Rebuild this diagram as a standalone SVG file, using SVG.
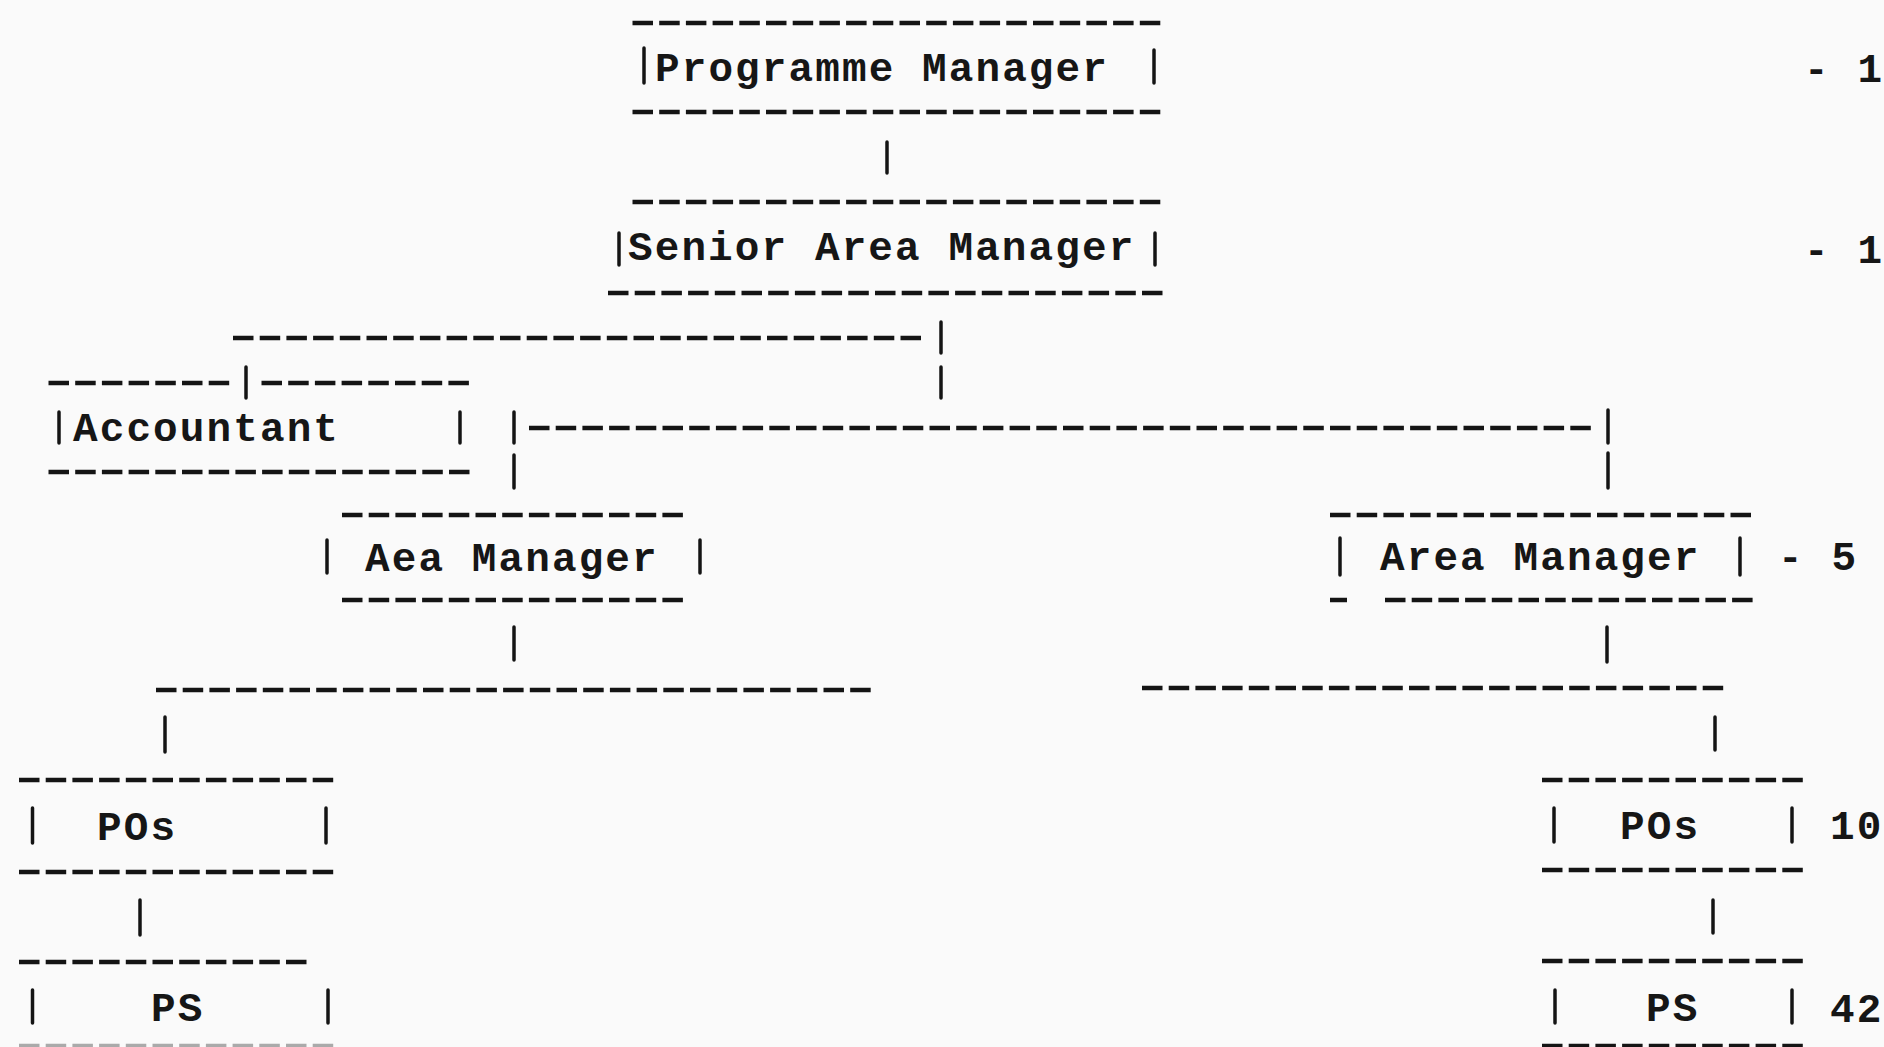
<svg xmlns="http://www.w3.org/2000/svg" width="1884" height="1047" viewBox="0 0 1884 1047">
<style>
.bg{fill:#fafafa}
.d{stroke:#141414;stroke-width:4.5;stroke-dasharray:20.5 6.2;fill:none}
.b{stroke:#141414;stroke-width:3.5;stroke-linecap:round}
.t{font-family:"Liberation Mono","DejaVu Sans Mono",monospace;font-size:41px;font-weight:bold;fill:#161616;letter-spacing:2.1px}
.faint{opacity:.35}
</style>
<rect class="bg" x="0" y="0" width="1884" height="1047"/>

<g id="programme-manager">
<line class="d" x1="632.5" y1="23" x2="1160.3" y2="23"/>
<line class="b" x1="644" y1="48" x2="644" y2="83"/>
<text class="t" x="655" y="81">Programme Manager</text>
<line class="b" x1="1154" y1="50" x2="1154" y2="83"/>
<line class="d" x1="632.5" y1="112" x2="1160.3" y2="112"/>
<text class="t" x="1804" y="82">- 1</text>
</g>

<g id="senior-area-manager">
<line class="d" x1="632.5" y1="202" x2="1160.3" y2="202"/>
<line class="b" x1="619" y1="233" x2="619" y2="265"/>
<text class="t" x="628" y="260">Senior Area Manager</text>
<line class="b" x1="1155" y1="233" x2="1155" y2="265"/>
<line class="d" x1="608" y1="293" x2="1162.5" y2="293"/>
<text class="t" x="1804" y="263">- 1</text>
</g>

<g id="accountant">
<line class="d" x1="48.5" y1="383" x2="229.2" y2="383"/>
<line class="d" x1="261.5" y1="383" x2="468.9" y2="383"/>
<line class="b" x1="59" y1="412" x2="59" y2="443"/>
<text class="t" x="73" y="441">Accountant</text>
<line class="b" x1="460" y1="412" x2="460" y2="443"/>
<line class="d" x1="48.5" y1="472" x2="469.5" y2="472"/>
</g>

<g id="aea-manager">
<line class="d" x1="342" y1="515" x2="682.9" y2="515"/>
<line class="b" x1="327" y1="540" x2="327" y2="573"/>
<text class="t" x="365" y="571">Aea Manager</text>
<line class="b" x1="700" y1="540" x2="700" y2="573"/>
<line class="d" x1="342" y1="600" x2="682.9" y2="600"/>
</g>

<g id="area-manager">
<line class="d" x1="1330" y1="515" x2="1751" y2="515"/>
<line class="b" x1="1340" y1="538" x2="1340" y2="575"/>
<text class="t" x="1380" y="570">Area Manager</text>
<line class="b" x1="1740" y1="538" x2="1740" y2="575"/>
<line class="d" x1="1330" y1="600" x2="1347" y2="600"/>
<line class="d" x1="1385" y1="600" x2="1752.6" y2="600"/>
<text class="t" x="1778" y="570">- 5</text>
</g>

<g id="pos-left">
<line class="d" x1="19" y1="780" x2="333.2" y2="780"/>
<line class="b" x1="32.5" y1="808" x2="32.5" y2="843"/>
<text class="t" x="97" y="840">POs</text>
<line class="b" x1="326" y1="808" x2="326" y2="843"/>
<line class="d" x1="19" y1="872" x2="333.2" y2="872"/>
</g>

<g id="ps-left">
<line class="d" x1="19" y1="962" x2="306.5" y2="962"/>
<line class="b" x1="32.5" y1="990" x2="32.5" y2="1023"/>
<text class="t" x="151" y="1021">PS</text>
<line class="b" x1="328" y1="990" x2="328" y2="1023"/>
<line class="d faint" x1="19" y1="1046" x2="333.2" y2="1046"/>
</g>

<g id="pos-right">
<line class="d" x1="1542" y1="780" x2="1802.8" y2="780"/>
<line class="b" x1="1554" y1="808" x2="1554" y2="842"/>
<text class="t" x="1620" y="839">POs</text>
<line class="b" x1="1792" y1="808" x2="1792" y2="842"/>
<line class="d" x1="1542" y1="870" x2="1802.8" y2="870"/>
<text class="t" x="1830" y="839">10</text>
</g>

<g id="ps-right">
<line class="d" x1="1542" y1="961" x2="1802.8" y2="961"/>
<line class="b" x1="1555" y1="990" x2="1555" y2="1023"/>
<text class="t" x="1646" y="1021">PS</text>
<line class="b" x1="1792" y1="990" x2="1792" y2="1023"/>
<line class="d" x1="1542" y1="1046" x2="1802.8" y2="1046"/>
<text class="t" x="1830" y="1022">42</text>
</g>

<g id="connectors">
<line class="b" x1="887" y1="142" x2="887" y2="173"/>
<line class="d" x1="233" y1="338" x2="921" y2="338"/>
<line class="b" x1="941" y1="322" x2="941" y2="353"/>
<line class="b" x1="941" y1="367" x2="941" y2="398"/>
<line class="b" x1="246" y1="367" x2="246" y2="398"/>
<line class="b" x1="514" y1="412" x2="514" y2="443"/>
<line class="d" x1="529" y1="428" x2="1590.8" y2="428"/>
<line class="b" x1="1608" y1="410" x2="1608" y2="443"/>
<line class="b" x1="514" y1="455" x2="514" y2="488"/>
<line class="b" x1="1608" y1="453" x2="1608" y2="488"/>
<line class="b" x1="514" y1="627" x2="514" y2="660"/>
<line class="b" x1="1607" y1="627" x2="1607" y2="662"/>
<line class="d" x1="156" y1="690" x2="870.7" y2="690"/>
<line class="d" x1="1142" y1="688" x2="1723.2" y2="688"/>
<line class="b" x1="165" y1="717" x2="165" y2="752"/>
<line class="b" x1="1715" y1="717" x2="1715" y2="750"/>
<line class="b" x1="140" y1="900" x2="140" y2="935"/>
<line class="b" x1="1713" y1="900" x2="1713" y2="933"/>
</g>
</svg>
